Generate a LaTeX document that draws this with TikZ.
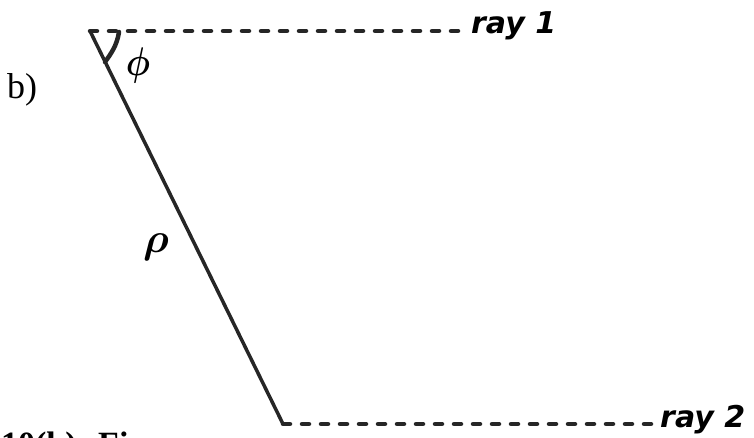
\documentclass[tikz,border=0pt]{standalone}
\usepackage{amsmath,amssymb,bm}
\usepackage{fontspec}
\usetikzlibrary{calc}
\setmainfont{Liberation Serif}
\newfontfamily\rayfont{DejaVu Sans}
\begin{document}
\begin{tikzpicture}[x=1pt,y=-1pt,
  ray/.style={line width=4.5pt,line cap=round,dash pattern=on 7pt off 12pt,color=black!85},
  seg/.style={line width=3.5pt,line cap=round,color=black!85},
  lbl/.style={inner sep=0pt,anchor=base west,font=\rayfont\bfseries\itshape\fontsize{30}{30}\selectfont},
  greek/.style={inner sep=0pt}]
\useasboundingbox (0,0) rectangle (754,438);
\coordinate (A) at (90,31);
\coordinate (B) at (283,424);
\node[lbl] (r1) at (471,34) {ray 1};
\node[lbl] (r2) at (660,427) {ray 2};
\coordinate (E1) at (461,31);
\coordinate (E2) at (651,424);
\draw[ray] (A) -- (E1);
\draw[ray] (B) -- (E2);
\draw[seg] (A) -- (B);
\draw[line width=4.5pt,line cap=round,color=black!85] (119,32) .. controls (117,46) and (110,55) .. (105,62);
\node[greek] (phi) at (138,66) {\scalebox{3.4}[4.0]{$\bm{\phi}$}};
\node[greek] (rho) at (156,247) {\scalebox{4.2}{$\bm{\rho}$}};
\node[inner sep=0pt,anchor=base west,font=\fontsize{36}{36}\selectfont] (b) at (7,99) {b)};
\node[inner sep=0pt,anchor=base west,font=\bfseries\fontsize{34}{34}\selectfont] (cap) at (1,455) {10(b).\hspace{13pt}Fi};
\end{tikzpicture}
\end{document}
